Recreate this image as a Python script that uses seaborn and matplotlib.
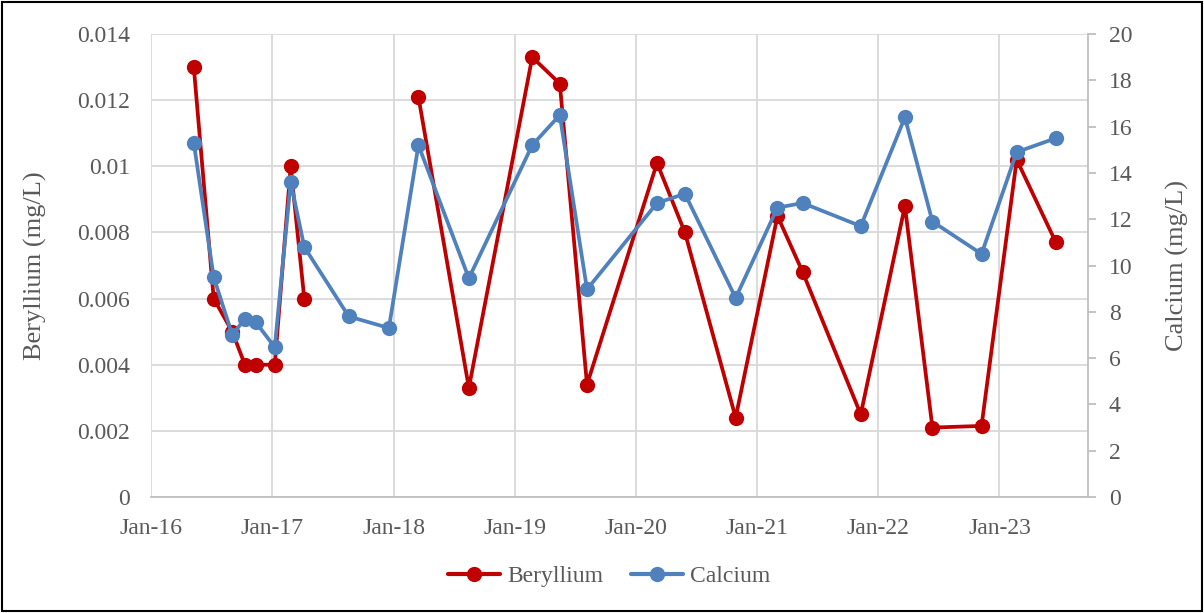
import pandas as pd
import numpy as np
import matplotlib.pyplot as plt
import matplotlib.dates as mdates
from matplotlib.lines import Line2D
from matplotlib.patches import Rectangle
import seaborn as sns

# sampling dates
dates = [
    "2016-05-09", "2016-07-08", "2016-09-02", "2016-10-10", "2016-11-12",
    "2017-01-08", "2017-02-25", "2017-04-07", "2017-08-19", "2017-12-18",
    "2018-03-17", "2018-08-16", "2019-02-23", "2019-05-17", "2019-08-07",
    "2020-03-05", "2020-05-28", "2020-10-28", "2021-03-03", "2021-05-18",
    "2021-11-09", "2022-03-22", "2022-06-13", "2022-11-08", "2023-02-22",
    "2023-06-20",
]
beryllium = [
    0.013, 0.006, 0.005, 0.004, 0.004,
    0.004, 0.010, 0.006, np.nan, np.nan,
    0.0121, 0.0033, 0.0133, 0.0125, 0.0034,
    0.0101, 0.008, 0.0024, 0.0085, 0.0068,
    0.0025, 0.0088, 0.0021, 0.00215, 0.0102,
    0.0077,
]
calcium = [
    15.3, 9.5, 7.0, 7.7, 7.55,
    6.47, 13.6, 10.8, 7.8, 7.3,
    15.2, 9.45, 15.2, 16.5, 8.97,
    12.7, 13.1, 8.6, 12.5, 12.7,
    11.7, 16.4, 11.9, 10.5, 14.9,
    15.5,
]

RED = "#C00000"
BLUE = "#4F81BD"
GREY_TXT = "#595959"
GRID = "#D9D9D9"

sns.set_theme(style="white")
plt.rcParams["font.family"] = ["Liberation Serif", "DejaVu Serif"]

df = pd.DataFrame({"date": pd.to_datetime(dates), "Beryllium": beryllium, "Calcium": calcium})
# segments so the beryllium line breaks where there is no value
df["seg"] = df["Beryllium"].isna().cumsum()
be = df.dropna(subset=["Beryllium"])

fig = plt.figure(figsize=(12.04, 6.13), dpi=100)
ax = fig.add_axes([0.1254, 0.1892, 0.7783, 0.7553])
ax2 = ax.twinx()

line_kw = dict(linewidth=2.7, marker="o", markersize=11, markeredgewidth=0)
sns.lineplot(data=be, x="date", y="Beryllium", units="seg", estimator=None,
             color=RED, ax=ax, legend=False, **line_kw)
sns.lineplot(data=df, x="date", y="Calcium", color=BLUE, ax=ax2, legend=False, **line_kw)

ax.set_xlim(pd.Timestamp("2016-01-01"), pd.Timestamp("2023-09-25"))
ax.set_ylim(0, 0.014)
ax.set_yticks(np.arange(0, 0.0141, 0.002))
ax.set_yticklabels(["0", "0.002", "0.004", "0.006", "0.008", "0.01", "0.012", "0.014"])
ax.xaxis.set_major_locator(mdates.YearLocator())
ax.xaxis.set_major_formatter(mdates.DateFormatter("%b-%y"))

ax2.set_ylim(0, 20)
ax2.set_yticks(np.arange(0, 21, 2))

ax.grid(True, color=GRID, linewidth=1.3)
ax2.grid(False)
ax.set_axisbelow(True)

for a in (ax, ax2):
    for s in a.spines.values():
        s.set_visible(False)
ax.spines["bottom"].set_visible(True)
ax.spines["bottom"].set_color("#BFBFBF")
ax.spines["bottom"].set_linewidth(1.3)
ax2.spines["right"].set_visible(True)
ax2.spines["right"].set_color("#BFBFBF")
ax2.spines["right"].set_linewidth(1.3)

ax.tick_params(axis="both", length=0, labelsize=17, labelcolor=GREY_TXT)
ax.tick_params(axis="y", pad=15)
ax.tick_params(axis="x", pad=15)
ax2.tick_params(axis="y", length=6, width=1.3, color="#BFBFBF", direction="out",
                labelsize=17, labelcolor=GREY_TXT, pad=9)

ax.set_xlabel("")
ax.set_ylabel("Beryllium (mg/L)", fontsize=19, color=GREY_TXT, labelpad=22)
ax2.set_ylabel("Calcium (mg/L)", fontsize=19, color=GREY_TXT, labelpad=24)

handles = [
    Line2D([], [], color=RED, lw=3, marker="o", markersize=11, markeredgewidth=0),
    Line2D([], [], color=BLUE, lw=3, marker="o", markersize=11, markeredgewidth=0),
]
leg = fig.legend(handles, ["Beryllium", "Calcium"], loc="center", bbox_to_anchor=(0.506, 0.06),
                 ncol=2, frameon=False, fontsize=17, handlelength=2.2, columnspacing=1.2,
                 handletextpad=0.3)
for t in leg.get_texts():
    t.set_color(GREY_TXT)

# outer frame
fig.patches.append(Rectangle((0.002, 0.003), 0.996, 0.994, transform=fig.transFigure,
                             fill=False, edgecolor="black", linewidth=1.5))

fig.savefig("out.png", dpi=100, facecolor="white")
